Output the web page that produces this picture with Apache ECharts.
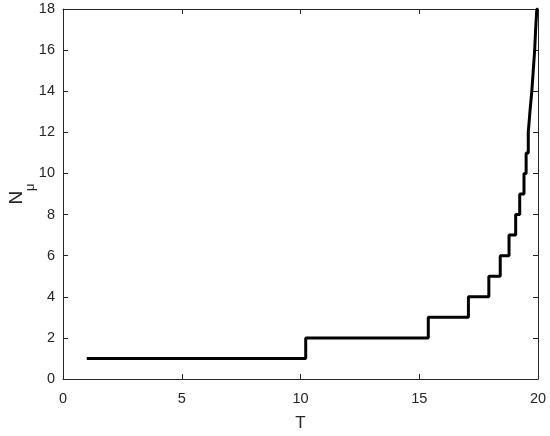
<!DOCTYPE html>
<html>
<head>
<meta charset="utf-8">
<script src="https://cdn.jsdelivr.net/npm/echarts@6/dist/echarts.min.js"></script>
<style>
  html, body { margin: 0; padding: 0; background: #fff; }
  #chart { width: 550px; height: 436px; }
</style>
</head>
<body>
<div id="chart"></div>
<script>
// T at which N_mu steps up to the next value (last point closes the line at T = 20)
var stepT = [1, 10.22, 15.38, 17.07, 17.93, 18.41, 18.78, 19.06, 19.23, 19.41,
             19.50, 19.59, 19.66, 19.74, 19.80, 19.86, 19.90, 19.95, 20]
var stepN = [1, 2, 3, 4, 5, 6, 7, 8, 9, 10, 11, 12, 13, 14, 15, 16, 17, 18, 18]

var xTicks = [0, 5, 10, 15, 20]
var yTicks = [0, 2, 4, 6, 8, 10, 12, 14, 16, 18]

var axisColor = '#262626'
var font = 'Liberation Sans, Arial, Helvetica, sans-serif'

var points = stepT.map(function (t, i) { return [t, stepN[i]] })

var chart = echarts.init(document.getElementById('chart'))

function boxAxis(extra) {
  return Object.assign({
    type: 'value',
    axisLine: { show: true, onZero: false, lineStyle: { color: axisColor, width: 1 } },
    axisTick: { show: true, inside: true, length: 5, lineStyle: { color: axisColor } },
    splitLine: { show: false },
    axisLabel: { show: false }
  }, extra)
}

chart.setOption({
  animation: false,
  grid: { left: 63, right: 12, top: 9, bottom: 57, containLabel: false, outerBoundsMode: 'none' },
  xAxis: [
    boxAxis({
      min: xTicks[0], max: xTicks[xTicks.length - 1], interval: 5,
      position: 'bottom',
      name: 'T', nameLocation: 'middle', nameGap: 36, nameMoveOverlap: false,
      nameTextStyle: { color: axisColor, fontSize: 17, fontFamily: font },
      axisLabel: { show: true, color: axisColor, fontSize: 14.5, fontFamily: font, margin: 12 }
    }),
    boxAxis({ min: xTicks[0], max: xTicks[xTicks.length - 1], interval: 5, position: 'top' })
  ],
  yAxis: [
    boxAxis({
      min: yTicks[0], max: yTicks[yTicks.length - 1], interval: 2,
      position: 'left',
      name: '{n|N}{s|μ}', nameLocation: 'middle', nameGap: 26, nameRotate: 90, nameMoveOverlap: false,
      nameTextStyle: {
        rich: {
          n: { color: axisColor, fontSize: 19, fontFamily: font, lineHeight: 30, verticalAlign: 'top', padding: [0, 0, 8, 0] },
          s: { color: axisColor, fontSize: 13, fontFamily: font, lineHeight: 30, verticalAlign: 'bottom', padding: [14, 0, 0, 0] }
        }
      },
      axisLabel: { show: true, color: axisColor, fontSize: 14.5, fontFamily: font, margin: 8 }
    }),
    boxAxis({ min: yTicks[0], max: yTicks[yTicks.length - 1], interval: 2, position: 'right' })
  ],
  series: [{
    type: 'line',
    step: 'end',
    data: points,
    showSymbol: false,
    lineStyle: { color: '#000', width: 3 }
  }]
})
</script>
</body>
</html>
